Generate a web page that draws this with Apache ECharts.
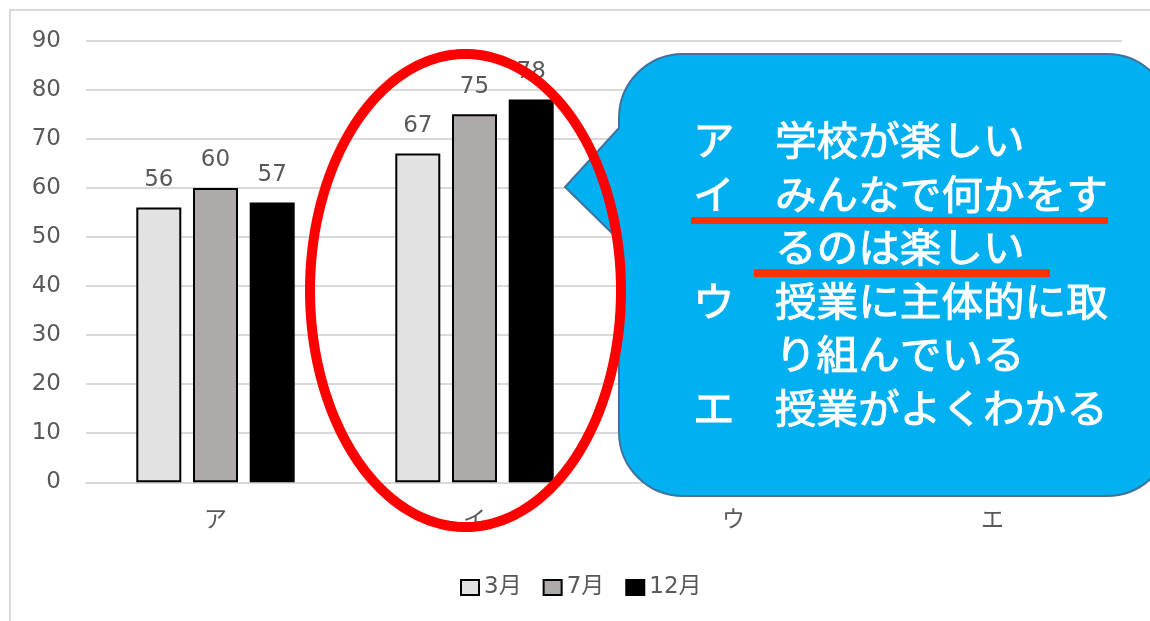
<!DOCTYPE html>
<html>
<head>
<meta charset="utf-8">
<script src="https://cdn.jsdelivr.net/npm/echarts@6/dist/echarts.min.js"></script>
<style>
  html, body { margin: 0; padding: 0; background: #ffffff; }
  #chart { width: 1150px; height: 621px; }
</style>
</head>
<body>
<div id="chart"></div>
<script>
// Survey items and the share (%) answering positively, per month
const categories = ['ア', 'イ', 'ウ', 'エ'];
const seriesNames = ['3月', '7月', '12月'];
const march = [56, 67, null, null];
const july = [60, 75, null, null];
const december = [57, 78, null, null];

const yMin = 0;
const yMax = 90;
const yStep = 10;

// Legend for the item codes, shown in the speech bubble
const itemKeys = ['ア', 'イ', '', 'ウ', '', 'エ'];
const itemTexts = [
  '学校が楽しい',
  'みんなで何かをす',
  'るのは楽しい',
  '授業に主体的に取',
  'り組んでいる',
  '授業がよくわかる'
];

// Rounded speech bubble with a wedge pointing left
echarts.graphic.registerShape('speechBubble', echarts.graphic.extendShape({
  shape: { x: 0, y: 0, width: 0, height: 0, r: 0, tipX: 0, tipY: 0, baseTop: 0, baseBottom: 0 },
  buildPath: function (ctx, s) {
    const x = s.x, y = s.y, w = s.width, h = s.height, r = s.r;
    ctx.moveTo(x + r, y);
    ctx.lineTo(x + w - r, y);
    ctx.arc(x + w - r, y + r, r, -Math.PI / 2, 0);
    ctx.lineTo(x + w, y + h - r);
    ctx.arc(x + w - r, y + h - r, r, 0, Math.PI / 2);
    ctx.lineTo(x + r, y + h);
    ctx.arc(x + r, y + h - r, r, Math.PI / 2, Math.PI);
    ctx.lineTo(x, s.baseBottom);
    ctx.lineTo(s.tipX, s.tipY);
    ctx.lineTo(x, s.baseTop);
    ctx.lineTo(x, y + r);
    ctx.arc(x + r, y + r, r, Math.PI, Math.PI * 1.5);
    ctx.closePath();
  }
}));

// Plain outlined ellipse
echarts.graphic.registerShape('ovalOutline', echarts.graphic.extendShape({
  shape: { cx: 0, cy: 0, rx: 0, ry: 0 },
  buildPath: function (ctx, s) {
    const n = 240;
    for (let i = 0; i <= n; i++) {
      const a = (i / n) * Math.PI * 2;
      const px = s.cx + s.rx * Math.cos(a);
      const py = s.cy + s.ry * Math.sin(a);
      if (i === 0) ctx.moveTo(px, py); else ctx.lineTo(px, py);
    }
    ctx.closePath();
  }
}));

const numFont = 'DejaVu Sans, Noto Sans CJK JP, sans-serif';
const jpFont = 'Noto Sans CJK JP, sans-serif';
const textGray = '#595959';

function barSeries(name, data, fill) {
  return {
    name: name,
    type: 'bar',
    data: data,
    barWidth: 45,
    barGap: '26%',
    itemStyle: { color: fill, borderColor: '#000000', borderWidth: 2 },
    label: {
      show: true,
      position: 'top',
      distance: 16,
      color: textGray,
      fontSize: 23,
      fontFamily: numFont
    }
  };
}

// Bubble contents: item codes, descriptions and underlines
const bubbleText = [];
const lineTop = 140;
const lineStep = 53.5;
const bubbleFont = { fill: '#ffffff', stroke: '#ffffff', lineWidth: 0.9, fontSize: 40, fontFamily: jpFont, verticalAlign: 'middle', align: 'left' };
itemTexts.forEach(function (t, i) {
  const cy = lineTop + i * lineStep;
  if (itemKeys[i]) {
    bubbleText.push({
      type: 'text', x: 693, y: cy, z: 110, scaleX: 1.04,
      style: Object.assign({ text: itemKeys[i] }, bubbleFont)
    });
  }
  bubbleText.push({
    type: 'text', x: 775, y: cy, z: 110, scaleX: 1.04,
    style: Object.assign({ text: t }, bubbleFont)
  });
});

const chart = echarts.init(document.getElementById('chart'), null, { renderer: 'canvas' });
chart.setOption({
  animation: false,
  backgroundColor: '#ffffff',
  grid: { left: 86, right: 28, top: 40.7, bottom: 138.7, containLabel: false },
  legend: {
    data: seriesNames,
    left: 460,
    top: 576,
    padding: 0,
    icon: 'rect',
    itemWidth: 18,
    itemHeight: 15,
    itemGap: 21,
    textStyle: { color: textGray, fontSize: 23, fontFamily: numFont }
  },
  xAxis: {
    type: 'category',
    data: categories,
    axisLine: { show: true, lineStyle: { color: '#d9d9d9', width: 2 } },
    axisTick: { show: false },
    axisLabel: { color: textGray, fontSize: 23, fontFamily: jpFont, margin: 24 }
  },
  yAxis: {
    type: 'value',
    min: yMin,
    max: yMax,
    interval: yStep,
    axisLine: { show: false },
    axisTick: { show: false },
    axisLabel: { color: textGray, fontSize: 23, fontFamily: numFont, margin: 25 },
    splitLine: { lineStyle: { color: '#d9d9d9', width: 2 } }
  },
  series: [
    barSeries(seriesNames[0], march, '#e2e2e2'),
    barSeries(seriesNames[1], july, '#aeaaaa'),
    barSeries(seriesNames[2], december, '#000000')
  ],
  graphic: {
    elements: [
      {
        type: 'rect', z: -1, silent: true,
        shape: { x: 10, y: 10, width: 1170, height: 650 },
        style: { fill: 'none', stroke: '#d9d9d9', lineWidth: 2 }
      },
      {
        type: 'speechBubble', z: 100, silent: true,
        shape: { x: 619, y: 54, width: 552, height: 442, r: 64, tipX: 565, tipY: 187, baseTop: 128, baseBottom: 240 },
        style: { fill: '#00b0f0', stroke: '#41719c', lineWidth: 2 }
      }
    ].concat(bubbleText).concat([
      {
        type: 'rect', z: 115, silent: true,
        shape: { x: 691, y: 217, width: 417, height: 7 },
        style: { fill: '#ff3300' }
      },
      {
        type: 'rect', z: 115, silent: true,
        shape: { x: 754, y: 269, width: 296, height: 8 },
        style: { fill: '#ff3300' }
      },
      {
        type: 'ovalOutline', z: 120, silent: true,
        shape: { cx: 465.5, cy: 290.5, rx: 155.5, ry: 236.5 },
        style: { fill: 'none', stroke: '#ff0000', lineWidth: 10 }
      }
    ])
  }
});
</script>
</body>
</html>
